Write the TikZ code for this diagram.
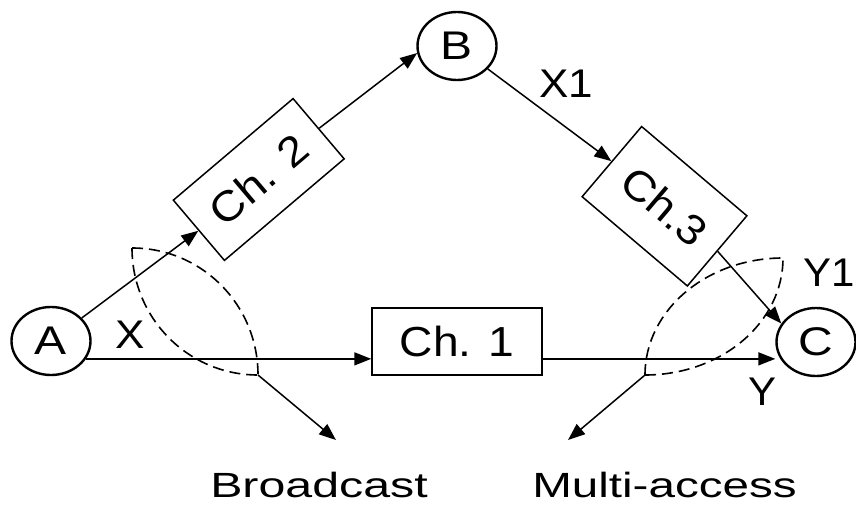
\documentclass[tikz,border=0pt]{standalone}
\usepackage{fontspec}
\setmainfont{Liberation Sans}
\usepackage{graphicx}
\usetikzlibrary{arrows.meta,shapes.geometric,calc}
\newcommand{\hstretch}[2]{\scalebox{#1}[1]{#2}}
\begin{document}
\begin{tikzpicture}[x=1pt,y=-1pt,
  line width=1.5pt,
  >={Triangle[length=17pt,width=13pt]},
  station/.style={ellipse,draw,line width=2.4pt,minimum width=79pt,minimum height=68pt,inner sep=0pt,font=\fontsize{40}{40}\selectfont},
  chbox/.style={rectangle,draw,line width=1.5pt,inner sep=0pt,font=\fontsize{42}{42}\selectfont},
  lbl/.style={inner sep=0pt,font=\fontsize{40}{40}\selectfont},
  biglbl/.style={inner sep=0pt,font=\fontsize{35}{35}\selectfont},
  bound/.style={dash pattern=on 11pt off 6pt,line width=1.6pt},
]
\useasboundingbox (0,0) rectangle (856,506);

% stations
\node[station] (A) at (51,341) {\hstretch{1.2}{A}};
\node[station] (B) at (457,46) {\hstretch{1.2}{B}};
\node[station] (C) at (816,342) {\hstretch{1.2}{C}};

% channels
\node[chbox,minimum width=170pt,minimum height=67pt] (Ch1) at (457,341.5) {\hstretch{1.1}{Ch. 1}};
\node[chbox,minimum width=157pt,minimum height=79pt,rotate=40.3] (Ch2) at (258.75,179.5) {\hstretch{1.1}{Ch. 2}};
\node[chbox,minimum width=138pt,minimum height=92pt,rotate=-40.3] (Ch3) at (664.5,206.25) {\hstretch{1.1}{Ch.3}};

% connectors
\draw[->] (A) -- (Ch2.west);
\draw[->] (Ch2.east) -- (B.190);
\draw[->] (B) -- (Ch3.west);
\draw[->] (Ch3.east) -- (C.152);
\draw[->] (A.-27) -- (A.-27 -| Ch1.west);
\draw[->] (A.-27 -| Ch1.east) -- (A.-27 -| C.west);

% labels
\node[lbl] (X) at (130,335) {\hstretch{1.1}{X}};
\node[lbl] (X1) at (566,84) {\hstretch{1.1}{X1}};
\node[lbl] (Y1) at (829,273) {\hstretch{1.05}{Y1}};
\node[lbl] (Y) at (762,392) {\hstretch{1.05}{Y}};

% broadcast region
\coordinate (P1) at (132,248);
\coordinate (P2) at (258,375);
\draw[bound] (P1) .. controls (132,318) and (188,375) .. (P2);
\draw[bound] (P1) .. controls (202,248) and (258,305) .. (P2);
\coordinate (bt) at (336,440);
\draw[->] (P2) -- (bt);
\node[biglbl] (bc) at (319,484.5) {\hstretch{1.38}{Broadcast}};

% multi-access region
\coordinate (P3) at (645,375);
\coordinate (P4) at (783,258);
\draw[bound] (P3) .. controls (645,310) and (707,258) .. (P4);
\draw[bound] (P3) .. controls (721,375) and (783,323) .. (P4);
\coordinate (mt) at (568,440);
\draw[->] (P3) -- (mt);
\node[biglbl] (ma) at (664.5,484.5) {\hstretch{1.36}{Multi-access}};
\end{tikzpicture}
\end{document}
